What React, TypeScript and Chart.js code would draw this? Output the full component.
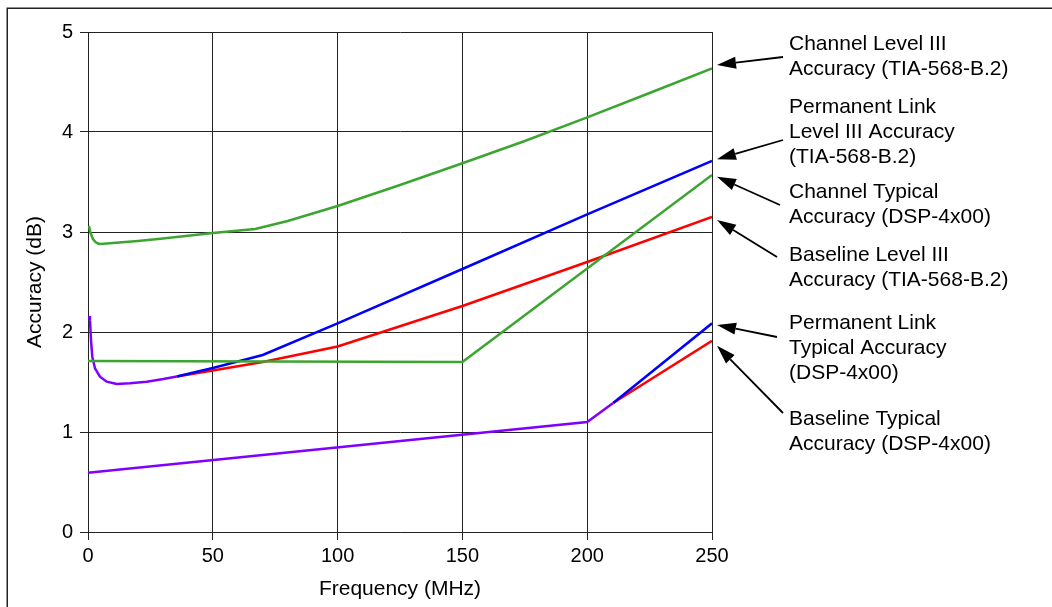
import React, { useEffect, useRef } from "react";
import { Chart, registerables } from "chart.js";

Chart.register(...registerables);

// ---------- Data ----------
// Channel Level III Accuracy (TIA-568-B.2) - green, upper
const chanL3X = [0.4, 1, 2, 3, 4, 5, 10, 20, 30, 50, 67, 80, 100, 125, 150, 175, 200, 225, 250];
const chanL3Y = [3.06, 2.99, 2.93, 2.9, 2.885, 2.88, 2.89, 2.91, 2.935, 2.99, 3.03, 3.11, 3.26, 3.47, 3.687, 3.91, 4.147, 4.39, 4.637];

// Channel Typical Accuracy (DSP-4x00) - green, lower
const chanTypX = [0, 150, 250];
const chanTypY = [1.71, 1.70, 3.57];

// Shared part of Permanent Link Level III and Baseline Level III (overlap, purple)
const sharedL3X = [0.5, 0.8, 1.2, 1.72, 2.8, 4.8, 7.5, 11.5, 16.8, 23.5, 30.2, 35.6];
const sharedL3Y = [2.16, 2.12, 1.92, 1.753, 1.637, 1.553, 1.503, 1.48, 1.487, 1.503, 1.53, 1.555];

// Permanent Link Level III Accuracy (TIA-568-B.2) - blue, upper
const permL3X = [35.6, 50, 70, 100, 150, 200, 250];
const permL3Y = [1.555, 1.64, 1.77, 2.087, 2.63, 3.177, 3.71];

// Baseline Level III Accuracy (TIA-568-B.2) - red, upper
const baseL3X = [35.6, 50, 70, 100, 150, 200, 250];
const baseL3Y = [1.555, 1.615, 1.70, 1.855, 2.26, 2.70, 3.15];

// Shared part of Permanent Link Typical and Baseline Typical (overlap, purple)
const sharedTypX = [0, 200, 210.4];
const sharedTypY = [0.593, 1.10, 1.29];

// Permanent Link Typical Accuracy (DSP-4x00) - blue, lower
const permTypX = [210.4, 250];
const permTypY = [1.29, 2.087];

// Baseline Typical Accuracy (DSP-4x00) - red, lower
const baseTypX = [210.4, 250];
const baseTypY = [1.29, 1.913];

// Axis
const xTicks = [0, 50, 100, 150, 200, 250];
const yTicks = [0, 1, 2, 3, 4, 5];
const xTitle = "Frequency (MHz)";
const yTitle = "Accuracy (dB)";

// Callouts
const calloutLabels = [
  ["Channel Level III", "Accuracy (TIA-568-B.2)"],
  ["Permanent Link", "Level III Accuracy", "(TIA-568-B.2)"],
  ["Channel Typical", "Accuracy (DSP-4x00)"],
  ["Baseline Level III", "Accuracy (TIA-568-B.2)"],
  ["Permanent Link", "Typical Accuracy", "(DSP-4x00)"],
  ["Baseline Typical", "Accuracy (DSP-4x00)"],
];
const calloutTipValues = [4.67, 3.727, 3.553, 3.12, 2.07, 1.863];

// ---------- Styles ----------
const FONT = "'Liberation Sans', Arial, Helvetica, sans-serif";
const GREEN = "#3ca532";
const BLUE = "#0000ff";
const RED = "#ff0000";
const PURPLE = "#8000ff";
const GRID = "#222222";

const callLayout = {
  textX: 789,
  firstLineY: [44, 107.5, 192, 255, 323.5, 419],
  lineH: 25,
  tails: [
    [783, 57],
    [783, 140],
    [780, 205],
    [777, 257],
    [777, 337],
    [783, 413],
  ],
};

function toPts(xs: number[], ys: number[]) {
  return xs.map((x, i) => ({ x, y: ys[i] }));
}

const decorPlugin = {
  id: "decor",
  beforeDraw(chart: any) {
    const ctx = chart.ctx as CanvasRenderingContext2D;
    ctx.save();
    ctx.fillStyle = "#ffffff";
    ctx.fillRect(0, 0, chart.width, chart.height);
    ctx.strokeStyle = "#222";
    ctx.lineWidth = 1.5;
    ctx.strokeRect(7.25, 8.25, chart.width + 40, chart.height + 40);
    ctx.restore();
  },
  afterDraw(chart: any) {
    const ctx = chart.ctx as CanvasRenderingContext2D;
    const yS = chart.scales.y;
    const tipX = chart.chartArea.right + 5;
    ctx.save();
    ctx.fillStyle = "#000";
    ctx.font = `21px ${FONT}`;
    ctx.textAlign = "left";
    ctx.textBaseline = "middle";
    calloutLabels.forEach((lines, i) => {
      lines.forEach((t, j) => {
        ctx.fillText(t, callLayout.textX, callLayout.firstLineY[i] + j * callLayout.lineH);
      });
      const [tx, ty] = callLayout.tails[i];
      const hx = tipX;
      const hy = yS.getPixelForValue(calloutTipValues[i]);
      const ang = Math.atan2(hy - ty, hx - tx);
      const headLen = 19;
      const headW = 6;
      const bx = hx - headLen * Math.cos(ang);
      const by = hy - headLen * Math.sin(ang);
      ctx.strokeStyle = "#000";
      ctx.lineWidth = 1.8;
      ctx.beginPath();
      ctx.moveTo(tx, ty);
      ctx.lineTo(bx, by);
      ctx.stroke();
      ctx.beginPath();
      ctx.moveTo(hx, hy);
      ctx.lineTo(bx + headW * Math.sin(ang), by - headW * Math.cos(ang));
      ctx.lineTo(bx - headW * Math.sin(ang), by + headW * Math.cos(ang));
      ctx.closePath();
      ctx.fill();
    });
    ctx.restore();
  },
};

function ds(xs: number[], ys: number[], color: string) {
  return {
    data: toPts(xs, ys),
    borderColor: color,
    backgroundColor: color,
    borderWidth: 2.5,
    pointRadius: 0,
    tension: 0,
    fill: false,
  };
}

export default function App() {
  const ref = useRef<HTMLCanvasElement | null>(null);

  useEffect(() => {
    if (!ref.current) return;
    const chart = new Chart(ref.current, {
      type: "line",
      data: {
        datasets: [
          ds(chanL3X, chanL3Y, GREEN),
          ds(chanTypX, chanTypY, GREEN),
          ds(permL3X, permL3Y, BLUE),
          ds(baseL3X, baseL3Y, RED),
          ds(sharedL3X, sharedL3Y, PURPLE),
          ds(permTypX, permTypY, BLUE),
          ds(baseTypX, baseTypY, RED),
          ds(sharedTypX, sharedTypY, PURPLE),
        ] as any,
      },
      options: {
        animation: false,
        responsive: false,
        devicePixelRatio: 1,
        layout: { padding: { left: 0, right: 340, top: 32, bottom: 0 } },
        plugins: {
          legend: { display: false },
          tooltip: { enabled: false },
        },
        scales: {
          x: {
            type: "linear",
            min: 0,
            max: 250,
            afterBuildTicks: (s: any) => {
              s.ticks = xTicks.map((v) => ({ value: v }));
            },
            afterFit: (s: any) => {
              s.height = 75;
            },
            ticks: {
              color: "#000",
              padding: 4,
              font: { family: FONT, size: 20 },
              maxRotation: 0,
            },
            grid: { color: GRID, lineWidth: 1, tickLength: 8 },
            border: { display: true, color: GRID, width: 1 },
            title: {
              display: true,
              text: xTitle,
              color: "#000",
              font: { family: FONT, size: 21 },
              padding: { top: 0, bottom: 5 },
            },
          },
          y: {
            type: "linear",
            min: 0,
            max: 5,
            afterBuildTicks: (s: any) => {
              s.ticks = yTicks.map((v) => ({ value: v }));
            },
            afterFit: (s: any) => {
              s.width = 88;
            },
            ticks: {
              color: "#000",
              padding: 7,
              font: { family: FONT, size: 20 },
            },
            grid: { color: GRID, lineWidth: 1, tickLength: 8 },
            border: { display: true, color: GRID, width: 1 },
            title: {
              display: true,
              text: yTitle,
              color: "#000",
              font: { family: FONT, size: 21 },
              padding: { top: 23, bottom: 0 },
            },
          },
        },
      },
      plugins: [decorPlugin],
    });
    return () => chart.destroy();
  }, []);

  return (
    <div style={{ position: "absolute", left: 0, top: 0, width: 1052, height: 607 }}>
      <canvas ref={ref} width={1052} height={607} style={{ display: "block" }} />
    </div>
  );
}
